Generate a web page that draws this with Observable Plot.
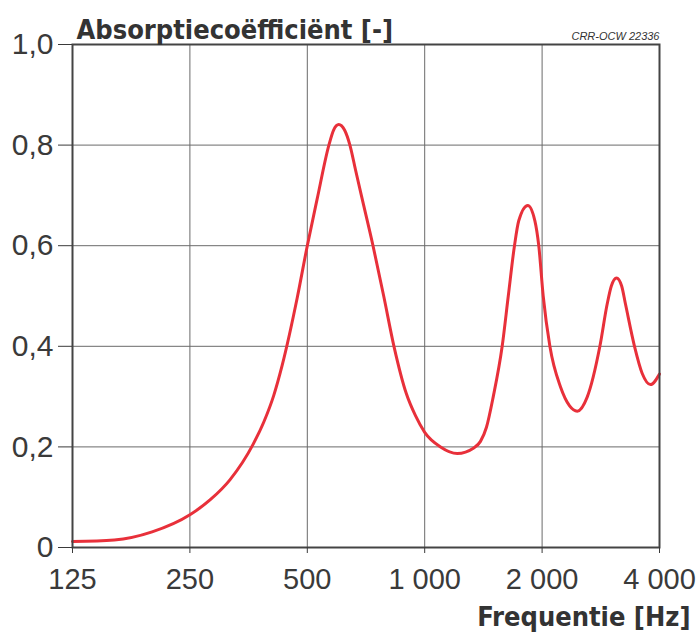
<!DOCTYPE html>
<html><head><meta charset="utf-8">
<script src="https://cdn.jsdelivr.net/npm/d3@7"></script>
<script src="https://cdn.jsdelivr.net/npm/@observablehq/plot@0.6"></script>
<style>body{margin:0;background:#fff}</style>
</head><body><div id="chart"></div>
<script>
const freq = [125, 160, 200, 250, 282, 317, 363, 387, 410, 431, 471, 500, 530, 568, 584, 602, 623, 643, 665, 688, 737, 785, 834, 898, 947, 1000, 1098, 1212, 1336, 1390, 1440, 1499, 1580, 1638, 1699, 1743, 1838, 1916, 1961, 2013, 2094, 2230, 2350, 2461, 2610, 2813, 2937, 3010, 3104, 3199, 3272, 3451, 3612, 3792, 4000];
const alpha = [0.012, 0.015, 0.031, 0.065, 0.095, 0.135, 0.205, 0.250, 0.302, 0.362, 0.496, 0.6, 0.693, 0.8, 0.830, 0.841, 0.830, 0.8, 0.75, 0.7, 0.6, 0.5, 0.4, 0.305, 0.262, 0.229, 0.2, 0.187, 0.198, 0.211, 0.239, 0.3, 0.4, 0.5, 0.6, 0.65, 0.68, 0.65, 0.6, 0.5, 0.4, 0.319, 0.282, 0.271, 0.299, 0.4, 0.484, 0.52, 0.536, 0.52, 0.484, 0.4, 0.346, 0.324, 0.345];
const xTicks = [125, 250, 500, 1000, 2000, 4000];
const xTickLabels = ["125", "250", "500", "1 000", "2 000", "4 000"];
const yTicks = [0, 0.2, 0.4, 0.6, 0.8, 1.0];
const yTickLabels = ["0", "0,2", "0,4", "0,6", "0,8", "1,0"];
const titleText = "Absorptiecoëfficiënt [-]";
const xTitleText = "Frequentie [Hz]";
const noteText = "CRR-OCW 22336";

const data = freq.map((f, i) => ({f, a: alpha[i]}));
const tickFont = "'Liberation Sans', Arial, sans-serif";
const boldFont = "'Liberation Sans Narrow', 'Arial Narrow', 'DejaVu Sans Condensed', 'Liberation Sans', sans-serif";

const chart = Plot.plot({
  width: 698,
  height: 632,
  marginLeft: 72,
  marginRight: 39,
  marginTop: 44,
  marginBottom: 85,
  style: {fontFamily: tickFont, color: "#3a3a3a", background: "#fff"},
  x: {type: "log", domain: [125, 4000]},
  y: {domain: [0, 1]},
  marks: [
    Plot.gridX(xTicks, {stroke: "#6a6a6a", strokeOpacity: 1, strokeWidth: 1}),
    Plot.gridY(yTicks, {stroke: "#6a6a6a", strokeOpacity: 1, strokeWidth: 1}),
    Plot.line(data, {x: "f", y: "a", stroke: "#e8303a", strokeWidth: 3, curve: "monotone-x"}),
    Plot.frame({stroke: "#444", strokeWidth: 2}),
    Plot.axisY(yTicks, {tickFormat: d => yTickLabels[yTicks.indexOf(d)], tickSize: 14, tickPadding: 5, fontSize: 30, label: null}),
    Plot.axisX(xTicks, {tickFormat: d => xTickLabels[xTicks.indexOf(d)], tickSize: 6, tickPadding: 15, fontSize: 29, label: null}),
    Plot.text([titleText], {text: d => d, frameAnchor: "top-left", textAnchor: "start", lineAnchor: "bottom", dx: 4, dy: -6, fontSize: 27, fontWeight: "bold", fill: "#333", fontFamily: boldFont}),
    Plot.text([noteText], {text: d => d, frameAnchor: "top-right", textAnchor: "end", lineAnchor: "bottom", dy: -5, fontSize: 11, fontStyle: "italic", fill: "#333"}),
    Plot.text([xTitleText], {text: d => d, frameAnchor: "bottom-right", textAnchor: "end", lineAnchor: "bottom", dx: 31, dy: 78, fontSize: 27, fontWeight: "bold", fill: "#333", fontFamily: boldFont})
  ]
});
document.getElementById("chart").appendChild(chart);
</script>
</body></html>
